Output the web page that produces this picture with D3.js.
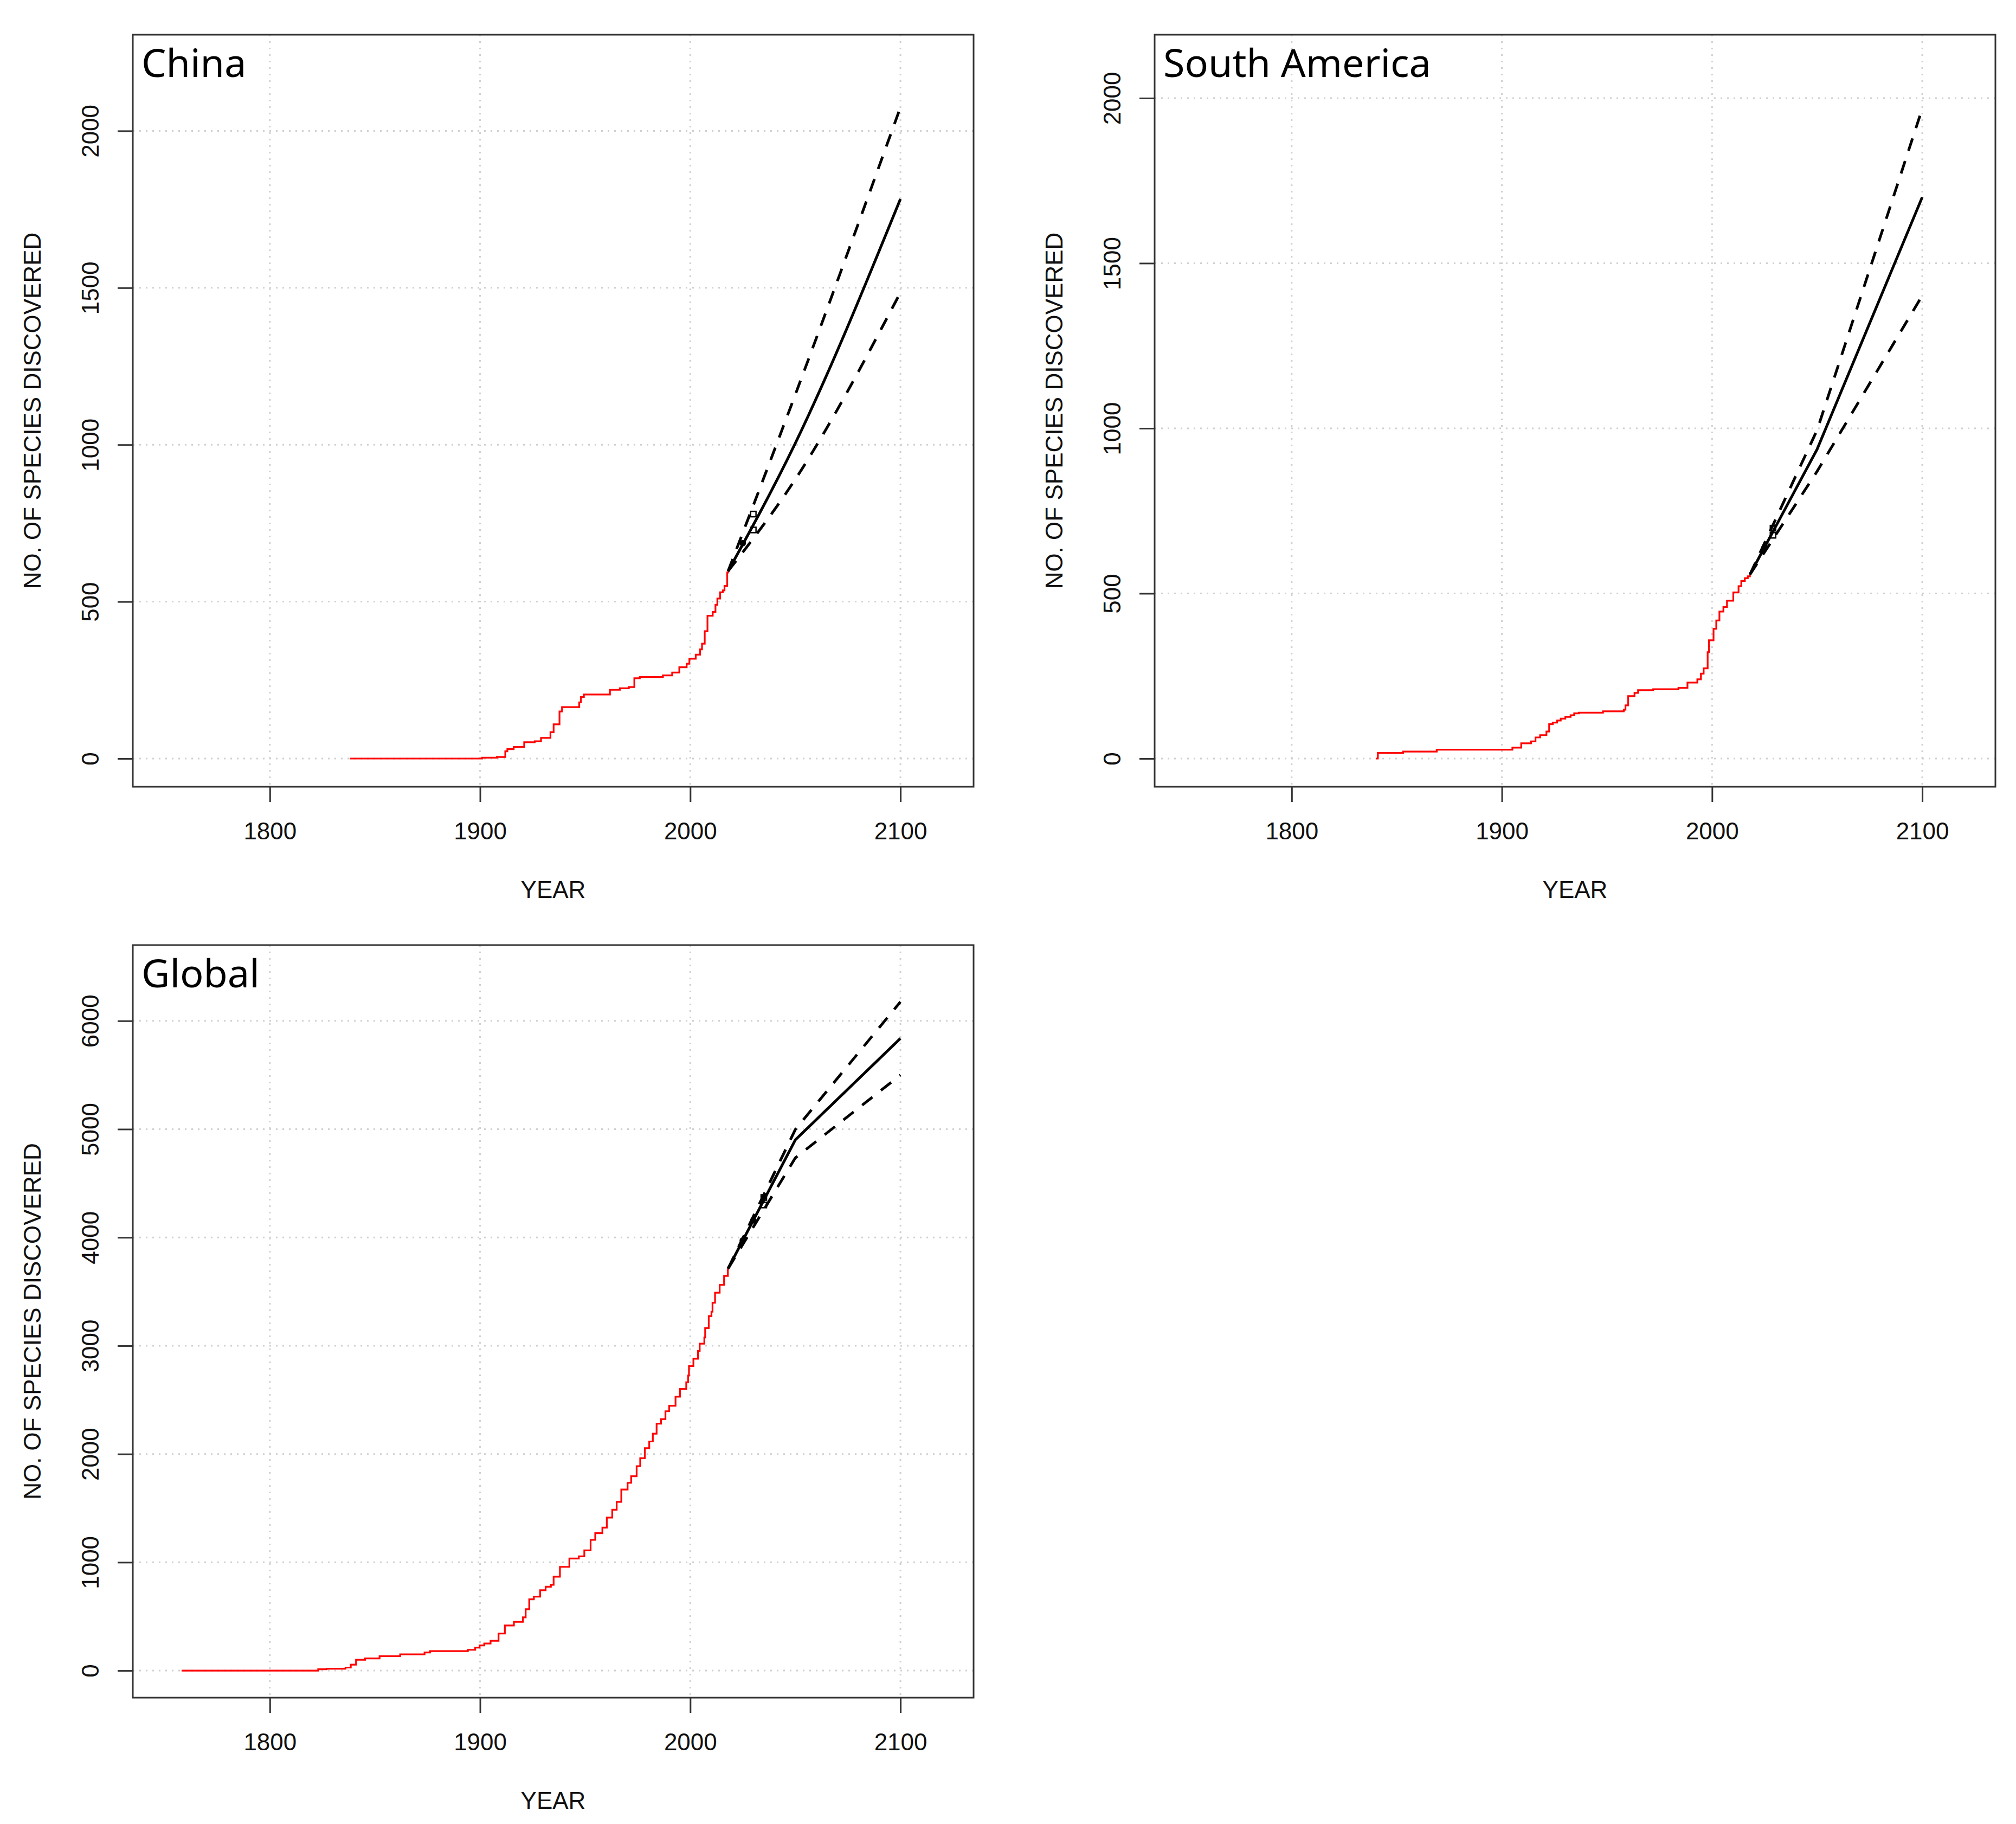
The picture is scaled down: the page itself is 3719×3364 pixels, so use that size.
<!DOCTYPE html>
<html><head><meta charset="utf-8">
<script src="https://cdn.jsdelivr.net/npm/d3@7"></script>
<style>html,body{margin:0;padding:0;background:#fff}</style>
</head><body><svg id="c" width="3719" height="3364" xmlns="http://www.w3.org/2000/svg"></svg>
<script>
// ---------- DATA ----------
const xTicks = [1800, 1900, 2000, 2100];
const xLabel = "YEAR";
const yLabel = "NO. OF SPECIES DISCOVERED";

// China
const chinaYTicks = [0, 500, 1000, 1500, 2000];
const chinaObs = [[1838,0],[1901,3],[1908,5],[1912,23],[1913,30],[1916,37],[1921,52],[1926,55],[1929,66],[1933.5,84],[1935,109],[1937.8,150],[1939,164],[1947.2,179],[1948,196],[1949.4,204],[1961.8,219],[1966.5,224],[1970.8,228],[1973.4,256],[1976,260],[1987,265],[1991.4,274],[1994.8,291],[1998.3,302],[1999.6,318],[2002.6,331],[2004.7,348],[2005.6,366],[2006.9,406],[2008.2,455],[2010.7,467],[2012,490],[2012.9,510],[2014.2,530],[2015.5,536],[2016.3,550],[2017.6,593],[2018,597]];
const chinaProjYears = [2018, 2050, 2100];
const chinaMean  = [597, 1005, 1783];
const chinaUpper = [597, 1160, 2075];
const chinaLower = [597, 890, 1485];
const chinaFilledYears = [2025];
const chinaOpenYears = [2030];

// South America
const saYTicks = [0, 500, 1000, 1500, 2000];
const saObs = [[1840,0],[1841,17],[1853,21],[1869,27],[1905,33],[1909.2,46],[1913.9,52],[1916,64],[1918.2,71],[1921.2,82],[1922.5,104],[1924.2,109],[1926.3,115],[1928,121],[1930.2,126],[1932.7,131],[1934.4,137],[1936.6,139],[1948.1,143],[1958,148],[1958.8,161],[1960.1,189],[1963.1,199],[1964.8,207],[1972,210],[1984,214],[1988.3,230],[1993,240],[1994.7,257],[1996,273],[1997.9,322],[1998.5,358],[2000.7,393],[2002,418],[2003.5,445],[2005.4,459],[2007.1,478],[2010.1,503],[2012.6,522],[2013.9,538],[2015.6,546],[2017,552],[2018,557]];
const saProjYears = [2018, 2050, 2100];
const saMean  = [557, 937, 1700];
const saUpper = [557, 995, 1968];
const saLower = [557, 870, 1402];
const saFilledYears = [2025];
const saOpenYears = [2029];

// Global
const globalYTicks = [0, 1000, 2000, 3000, 4000, 5000, 6000];
const globalObs = [[1758,0],[1823,12],[1827,17],[1836,28],[1838.5,55],[1841,100],[1845.3,112],[1852.2,133],[1862,150],[1873.6,167],[1876.2,180],[1894.2,192],[1897.7,212],[1899.8,233],[1902,250],[1905,275],[1908.8,342],[1911.8,417],[1916.1,450],[1920.4,492],[1921.7,567],[1923.4,658],[1925.6,683],[1928.6,742],[1931.2,775],[1933.7,792],[1935,867],[1938,958],[1942.5,1035],[1947,1055],[1949.6,1110],[1952.6,1207],[1954.8,1269],[1958.2,1320],[1960.3,1413],[1962.9,1486],[1965,1558],[1967.2,1672],[1970.2,1734],[1971.9,1795],[1974.5,1888],[1976.2,1961],[1978.4,2054],[1980.5,2116],[1982.2,2188],[1984,2281],[1986.1,2322],[1988.2,2395],[1990,2446],[1993,2529],[1995.1,2601],[1998.1,2663],[1999,2725],[1999.4,2812],[2001.5,2880],[2003.7,2952],[2004.5,3019],[2006.7,3076],[2007.1,3163],[2008.8,3273],[2010.1,3314],[2010.6,3397],[2011.8,3490],[2014,3562],[2016.1,3645],[2017.9,3707],[2018,3712]];
const globalProjYears = [2018, 2050, 2100];
const globalMean  = [3712, 4901, 5838];
const globalUpper = [3712, 4997, 6176];
const globalLower = [3712, 4735, 5500];
const globalFilledYears = [2025, 2030];
const globalOpenYears = [2035];

// ---------- LAYOUT ----------
const panels = [
  {title:"China", obs:chinaObs, years:chinaProjYears, mean:chinaMean, upper:chinaUpper, lower:chinaLower,
   filled:chinaFilledYears, open:chinaOpenYears, yTicks:chinaYTicks, yDomain:[-89.8, 2306.5], smooth:true,
   left:245, right:1796, top:64, bottom:1451},
  {title:"South America", obs:saObs, years:saProjYears, mean:saMean, upper:saUpper, lower:saLower,
   filled:saFilledYears, open:saOpenYears, yTicks:saYTicks, yDomain:[-85.4, 2192], smooth:false,
   left:2130, right:3681, top:64, bottom:1451},
  {title:"Global", obs:globalObs, years:globalProjYears, mean:globalMean, upper:globalUpper, lower:globalLower,
   filled:globalFilledYears, open:globalOpenYears, yTicks:globalYTicks, yDomain:[-250, 6700], smooth:false,
   left:245, right:1796, top:1743, bottom:3131}
];
const xDomain = [1734.8, 2134.8];
const axisFont = "'Liberation Sans', Arial, Helvetica, sans-serif";
const titleFont = "'Noto Sans', 'Open Sans', sans-serif";
const axisColor = "#333";

const svg = d3.select("#c");
svg.append("rect").attr("width",3719).attr("height",3364).attr("fill","#fff");

panels.forEach(p => {
  const g = svg.append("g");
  const x = d3.scaleLinear().domain(xDomain).range([p.left, p.right]);
  const y = d3.scaleLinear().domain(p.yDomain).range([p.bottom, p.top]);

  // grid
  const grid = g.append("g").attr("stroke","#d0d0d0").attr("stroke-width",3).attr("stroke-dasharray","3,9");
  xTicks.forEach(t => grid.append("line").attr("x1",x(t)).attr("x2",x(t)).attr("y1",p.top).attr("y2",p.bottom));
  p.yTicks.forEach(t => grid.append("line").attr("x1",p.left).attr("x2",p.right).attr("y1",y(t)).attr("y2",y(t)));

  // observed step line
  const stepLine = d3.line().x(d => x(d[0])).y(d => y(d[1])).curve(d3.curveStepAfter);
  g.append("path").datum(p.obs).attr("d",stepLine).attr("fill","none")
    .attr("stroke","#ff0000").attr("stroke-width",3.2).attr("stroke-linejoin","miter");

  // projections
  const proj = (vals) => p.years.map((yr,i) => [yr, vals[i]]);
  const line = d3.line().x(d => x(d[0])).y(d => y(d[1]))
    .curve(p.smooth ? d3.curveMonotoneX : d3.curveLinear);
  g.append("path").datum(proj(p.upper)).attr("d",line).attr("fill","none")
    .attr("stroke","#000").attr("stroke-width",5).attr("stroke-dasharray","24,20");
  g.append("path").datum(proj(p.lower)).attr("d",line).attr("fill","none")
    .attr("stroke","#000").attr("stroke-width",5).attr("stroke-dasharray","24,20");
  g.append("path").datum(proj(p.mean)).attr("d",line).attr("fill","none")
    .attr("stroke","#000").attr("stroke-width",5);

  // markers
  const interp = (vals) => d3.scaleLinear().domain(p.years).range(vals);
  const fm = interp(p.mean), fu = interp(p.upper), fl = interp(p.lower);
  p.filled.forEach(yr => {
    g.append("circle").attr("cx",x(yr)).attr("cy",y(fm(yr))).attr("r",6).attr("fill","#000");
  });
  p.open.forEach(yr => {
    [fu, fl].forEach(f => {
      const cy = (y(f(yr)) + y(fm(yr))) / 2;
      g.append("rect").attr("x",x(yr)-5).attr("y",cy-5).attr("width",10).attr("height",10)
        .attr("fill","none").attr("stroke","#000").attr("stroke-width",2.5);
    });
  });

  // box
  g.append("rect").attr("x",p.left).attr("y",p.top).attr("width",p.right-p.left).attr("height",p.bottom-p.top)
    .attr("fill","none").attr("stroke",axisColor).attr("stroke-width",3);

  // x axis
  const xa = g.append("g").attr("transform",`translate(0,${p.bottom})`)
    .call(d3.axisBottom(x).tickValues(xTicks).tickSize(28).tickPadding(0).tickFormat(d3.format("d")));
  xa.select(".domain").remove();
  xa.selectAll(".tick line").attr("stroke",axisColor).attr("stroke-width",3);
  xa.selectAll(".tick text").attr("y",97).attr("dy",null).attr("fill","#111")
    .style("font-family",axisFont).style("font-size","44px");

  // y axis
  const ya = g.append("g").attr("transform",`translate(${p.left},0)`)
    .call(d3.axisLeft(y).tickValues(p.yTicks).tickSize(28).tickFormat(d3.format("d")));
  ya.select(".domain").remove();
  ya.selectAll(".tick line").attr("stroke",axisColor).attr("stroke-width",3);
  ya.selectAll(".tick text").attr("x",null).attr("dy",null)
    .attr("transform","translate(-63,0) rotate(-90)").attr("text-anchor","middle")
    .attr("fill","#111").style("font-family",axisFont).style("font-size","44px");

  // axis titles
  g.append("text").attr("x",(p.left+p.right)/2).attr("y",p.bottom+205).attr("text-anchor","middle")
    .attr("fill","#111").style("font-family",axisFont).style("font-size","44px").text(xLabel);
  g.append("text").attr("transform",`translate(${p.left-170},${(p.top+p.bottom)/2}) rotate(-90)`)
    .attr("text-anchor","middle").attr("fill","#111").style("font-family",axisFont).style("font-size","44px").text(yLabel);

  // panel title
  g.append("text").attr("x",p.left+16).attr("y",p.top+78).attr("fill","#000")
    .style("font-family",titleFont).style("font-size","72px").text(p.title);
});
</script></body></html>
